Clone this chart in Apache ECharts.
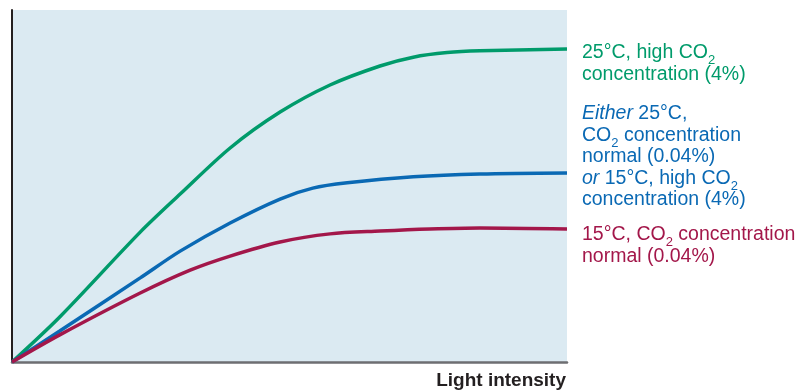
<!DOCTYPE html>
<html>
<head>
<meta charset="utf-8">
<script src="https://cdn.jsdelivr.net/npm/echarts@6/dist/echarts.min.js"></script>
<style>
html,body{margin:0;padding:0;background:#fff;}
#chart{width:805px;height:391px;}
</style>
</head>
<body>
<div id="chart"></div>
<script>
// Light intensity (arbitrary units, 0-100) and photosynthesis rate (arbitrary units)
const greenX = [0, 8.6, 23.1, 30.3, 39.3, 48.3, 57.3, 66.3, 72.3, 78.4, 84.3, 100];
const greenY = [0, 12.8, 36.9, 47.7, 60.8, 71.0, 78.7, 84.1, 86.6, 87.9, 88.4, 88.9];
const blueX = [0, 8.6, 23.1, 30.3, 39.3, 48.3, 54.2, 60.4, 72.3, 84.3, 100];
const blueY = [0, 8.8, 23.9, 31.5, 39.5, 46.3, 49.4, 50.9, 52.6, 53.4, 53.7];
const redX = [0, 8.6, 23.1, 32.1, 39.3, 48.3, 57.3, 66.3, 75.3, 84.3, 100];
const redY = [0, 7.7, 19.6, 26.1, 30.1, 34.1, 36.4, 37.2, 37.8, 38.1, 37.8];
const xAxisTitle = 'Light intensity';

const GREEN = '#009b6b', BLUE = '#0a69b4', RED = '#a3174a';
const FONT = '"Liberation Sans", Arial, Helvetica, sans-serif';

function zip(xs, ys) { return xs.map((x, i) => [x, ys[i]]); }

function richFor(color) {
  return {
    n: { fontSize: 19.5, lineHeight: 21.5, fontFamily: FONT, fill: color, color: color },
    i: { fontSize: 19.5, lineHeight: 21.5, fontFamily: FONT, fill: color, color: color, fontStyle: 'italic' },
    s: { fontSize: 13, lineHeight: 21.5, fontFamily: FONT, fill: color, color: color, verticalAlign: 'top', padding: [12, 0, 0, 0] }
  };
}

const chart = echarts.init(document.getElementById('chart'), null, { renderer: 'canvas' });

function line(name, data, color) {
  return {
    name, type: 'line', data, smooth: 0.3,
    symbol: 'none', clip: false,
    lineStyle: { color, width: 3.5 },
    itemStyle: { color },
    z: 3
  };
}

chart.setOption({
  animation: false,
  backgroundColor: '#ffffff',
  grid: {
    left: 12, right: 238, top: 10, bottom: 29,
    show: true, backgroundColor: '#dbeaf2', borderWidth: 0
  },
  xAxis: {
    type: 'value', min: 0, max: 100,
    name: xAxisTitle, nameLocation: 'end', nameGap: -1,
    nameTextStyle: {
      fontFamily: FONT, fontSize: 19, fontWeight: 'bold', color: '#231f20',
      align: 'right', verticalAlign: 'top', padding: [9, 0, 0, 0]
    },
    axisLine: { show: true, lineStyle: { color: '#6d6e71', width: 2.5 } },
    axisTick: { show: false }, axisLabel: { show: false }, splitLine: { show: false }
  },
  yAxis: {
    type: 'value', min: 0, max: 100,
    axisLine: { show: true, lineStyle: { color: '#231f20', width: 2 } },
    axisTick: { show: false }, axisLabel: { show: false }, splitLine: { show: false }
  },
  series: [
    line('25°C, high CO2 concentration (4%)', zip(greenX, greenY), GREEN),
    line('Either 25°C, CO2 normal or 15°C, high CO2', zip(blueX, blueY), BLUE),
    line('15°C, CO2 concentration normal (0.04%)', zip(redX, redY), RED)
  ],
  graphic: [
    {
      type: 'text', left: 582, top: 42, z: 10,
      style: {
        text: '{n|25°C, high CO}{s|2}\n{n|concentration (4%)}',
        rich: richFor(GREEN), fill: GREEN, fontFamily: FONT, fontSize: 19.5
      }
    },
    {
      type: 'text', left: 582, top: 104, z: 10,
      style: {
        text: '{i|Either} {n|25°C,}\n{n|CO}{s|2}{n| concentration}\n{n|normal (0.04%)}\n{i|or} {n|15°C, high CO}{s|2}\n{n|concentration (4%)}',
        rich: richFor(BLUE), fill: BLUE, fontFamily: FONT, fontSize: 19.5
      }
    },
    {
      type: 'text', left: 582, top: 224, z: 10,
      style: {
        text: '{n|15°C, CO}{s|2}{n| concentration}\n{n|normal (0.04%)}',
        rich: richFor(RED), fill: RED, fontFamily: FONT, fontSize: 19.5
      }
    }
  ]
});
</script>
</body>
</html>
